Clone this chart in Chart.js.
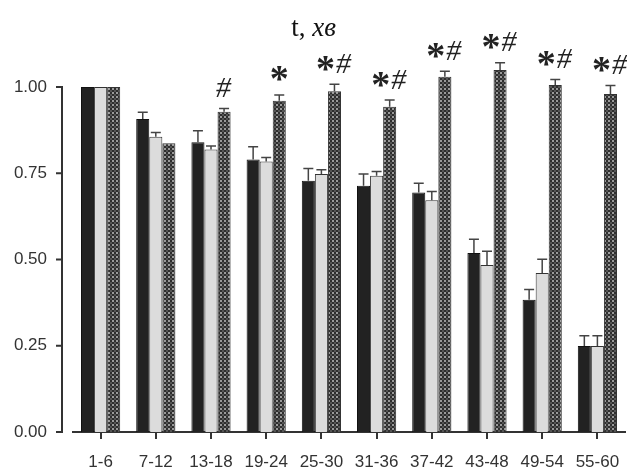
<!DOCTYPE html>
<html>
<head>
<meta charset="utf-8">
<script src="https://cdn.jsdelivr.net/npm/chart.js@4.4.1/dist/chart.umd.min.js"></script>
<style>
  html, body { margin: 0; padding: 0; background: #fff; }
  #wrap { position: relative; width: 627px; height: 470px; }
</style>
</head>
<body>
<div id="wrap"><canvas id="c" width="627" height="470"></canvas></div>
<script>
// ---- data ----
const categories = ['1-6', '7-12', '13-18', '19-24', '25-30', '31-36', '37-42', '43-48', '49-54', '55-60'];
const blackValues  = [1.00, 0.907, 0.840, 0.790, 0.728, 0.714, 0.694, 0.519, 0.383, 0.249];
const blackErrors  = [0, 0.020, 0.033, 0.037, 0.036, 0.034, 0.027, 0.040, 0.030, 0.030];
const grayValues   = [1.00, 0.856, 0.819, 0.784, 0.748, 0.743, 0.672, 0.484, 0.461, 0.249];
const grayErrors   = [0, 0.012, 0.010, 0.012, 0.012, 0.012, 0.025, 0.040, 0.040, 0.030];
const hatchValues  = [1.00, 0.837, 0.928, 0.960, 0.988, 0.943, 1.030, 1.049, 1.006, 0.980];
const hatchErrors  = [0, 0, 0.010, 0.017, 0.020, 0.019, 0.016, 0.021, 0.016, 0.024];
const marks        = ['', '', '#', '*', '*#', '*#', '*#', '*#', '*#', '*#'];
const yTickValues  = [0, 0.25, 0.5, 0.75, 1.0];
const titleMain = 't, ';
const titleItalic = 'хв';

// ---- hatch pattern ----
function makePattern() {
  const p = document.createElement('canvas');
  p.width = 4; p.height = 4;
  const g = p.getContext('2d');
  g.fillStyle = '#2e2e2e';
  g.fillRect(0, 0, 4, 4);
  g.fillStyle = '#9a9a9a';
  g.fillRect(0, 0, 2, 2);
  g.fillStyle = '#555';
  g.fillRect(2, 2, 2, 2);
  return document.getElementById('c').getContext('2d').createPattern(p, 'repeat');
}
const hatch = makePattern();

const errorSets = [blackErrors, grayErrors, hatchErrors];

const decorPlugin = {
  id: 'decor',
  afterDatasetsDraw(chart) {
    const ctx = chart.ctx;
    const y = chart.scales.y;
    // error bars
    ctx.save();
    ctx.strokeStyle = '#444';
    ctx.lineWidth = 1.5;
    chart.data.datasets.forEach((ds, i) => {
      const meta = chart.getDatasetMeta(i);
      meta.data.forEach((el, j) => {
        const e = errorSets[i][j];
        if (!e) return;
        const top = y.getPixelForValue(ds.data[j] + e);
        ctx.beginPath();
        ctx.moveTo(el.x, el.y);
        ctx.lineTo(el.x, top);
        ctx.moveTo(el.x - 5, top);
        ctx.lineTo(el.x + 5, top);
        ctx.stroke();
      });
    });
    ctx.restore();

    // significance marks above hatched bars
    const meta = chart.getDatasetMeta(2);
    ctx.save();
    ctx.fillStyle = '#222';
    const starFont = 'bold 38px "Liberation Serif"';
    const hashFont = 'italic 30px "Liberation Serif"';
    marks.forEach((m, j) => {
      if (!m) return;
      const el = meta.data[j];
      const top = y.getPixelForValue(hatchValues[j] + hatchErrors[j]);
      const cy = top - 21;
      const parts = m.split('').map(ch => {
        ctx.font = ch === '*' ? starFont : hashFont;
        const mt = ctx.measureText(ch);
        return { ch, mt, w: mt.actualBoundingBoxLeft + mt.actualBoundingBoxRight };
      });
      const gap = 2;
      const total = parts.reduce((s, p) => s + p.w, 0) + gap * (parts.length - 1);
      let x = el.x - total / 2;
      parts.forEach(p => {
        ctx.font = p.ch === '*' ? starFont : hashFont;
        ctx.textBaseline = 'alphabetic';
        ctx.textAlign = 'left';
        const yy = cy + (p.mt.actualBoundingBoxAscent - p.mt.actualBoundingBoxDescent) / 2;
        ctx.fillText(p.ch, x + p.mt.actualBoundingBoxLeft, yy);
        x += p.w + gap;
      });
    });
    ctx.restore();
  },
  afterDraw(chart) {
    const ctx = chart.ctx;
    const y = chart.scales.y;
    const ax = chart.chartArea.left - 11;
    ctx.save();
    ctx.strokeStyle = '#333';
    ctx.lineWidth = 2;
    ctx.beginPath();
    ctx.moveTo(ax, y.getPixelForValue(0) + 1);
    ctx.lineTo(ax, y.getPixelForValue(1) - 1);
    yTickValues.forEach(v => {
      const py = y.getPixelForValue(v);
      ctx.moveTo(ax - 6, py);
      ctx.lineTo(ax, py);
    });
    ctx.stroke();

    // title
    ctx.fillStyle = '#111';
    ctx.textBaseline = 'alphabetic';
    const f1 = '27px "Liberation Serif"', f2 = 'italic 27px "Liberation Serif"';
    ctx.font = f1;
    const w1 = ctx.measureText(titleMain).width;
    ctx.font = f2;
    const w2 = ctx.measureText(titleItalic).width;
    const x0 = chart.width / 2 - (w1 + w2) / 2;
    ctx.font = f1;
    ctx.fillText(titleMain, x0, 36);
    ctx.font = f2;
    ctx.fillText(titleItalic, x0 + w1, 36);
    ctx.restore();
  }
};

new Chart(document.getElementById('c'), {
  type: 'bar',
  data: {
    labels: categories,
    datasets: [
      { data: blackValues, backgroundColor: '#222', borderColor: '#111', borderWidth: 1 },
      { data: grayValues, backgroundColor: '#dcdcdc', borderColor: '#333', borderWidth: 1 },
      { data: hatchValues, backgroundColor: hatch, borderColor: '#333', borderWidth: 1 }
    ]
  },
  options: {
    responsive: false,
    animation: false,
    devicePixelRatio: 1,
    layout: { padding: { top: 18, right: 2, left: 0, bottom: 0 } },
    datasets: { bar: { barPercentage: 1.0, categoryPercentage: 0.71 } },
    plugins: { legend: { display: false }, tooltip: { enabled: false }, title: { display: false } },
    scales: {
      x: {
        afterFit(s) { s.height = 38; s.paddingLeft = 0; s.paddingRight = 0; },
        border: { display: true, color: '#333', width: 2 },
        grid: { display: true, drawOnChartArea: false, drawTicks: true, tickLength: 7, color: '#333', lineWidth: 2, offset: false },
        ticks: { color: '#333', font: { family: '"Liberation Sans", Arial', size: 17 }, padding: 13, maxRotation: 0, autoSkip: false }
      },
      y: {
        min: 0, max: 1.2,
        afterFit(s) { s.width = 73; s.paddingTop = 0; s.paddingBottom = 0; },
        afterBuildTicks(s) { s.ticks = yTickValues.map(v => ({ value: v })); },
        border: { display: false },
        grid: { display: false, drawTicks: false },
        ticks: {
          color: '#333', font: { family: '"Liberation Sans", Arial', size: 17 }, padding: 26,
          callback: v => Number(v).toFixed(2)
        }
      }
    }
  },
  plugins: [decorPlugin]
});
</script>
</body>
</html>
